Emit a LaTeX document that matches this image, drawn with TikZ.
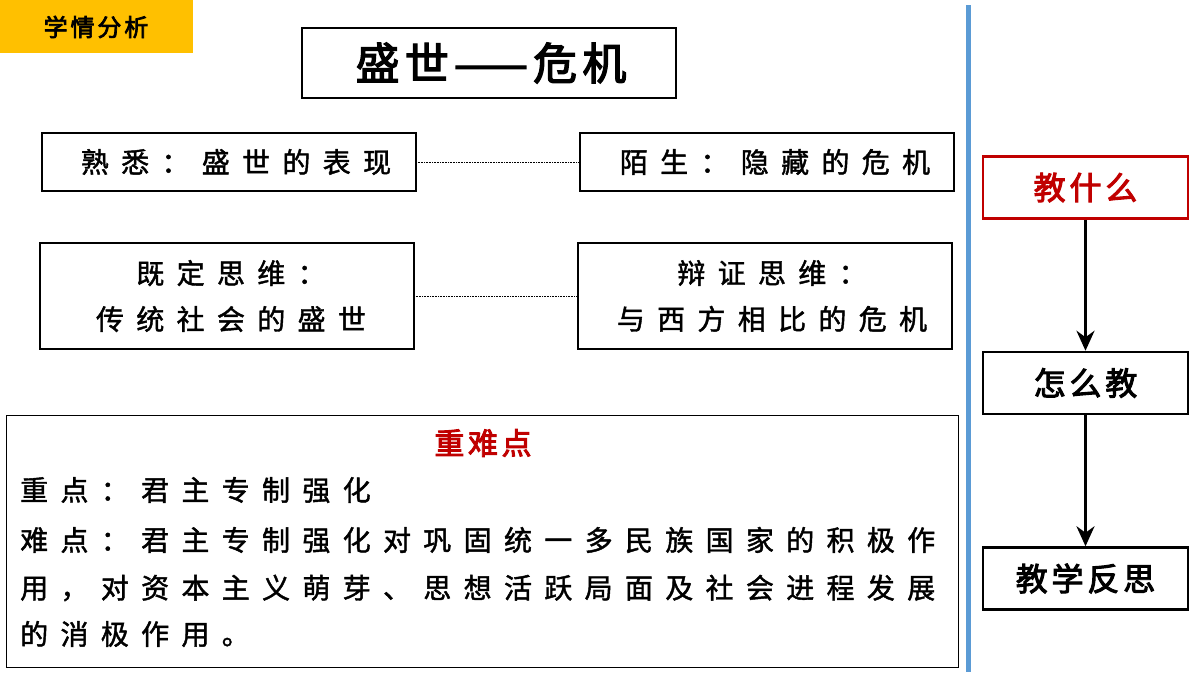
\documentclass[tikz,border=0pt]{standalone}
\usepackage{fontspec}
\usetikzlibrary{arrows.meta}
\newfontfamily\cjk[LetterSpace=44,FakeBold=1.5]{Noto Sans CJK SC}
\newfontfamily\cjkb[LetterSpace=12,FakeBold=3]{Noto Sans CJK SC}
\definecolor{ybox}{HTML}{FFC000}
\definecolor{bline}{HTML}{5B9BD5}
\definecolor{dred}{HTML}{C00000}
\begin{document}
\begin{tikzpicture}[x=1pt,y=-1pt,
  box/.style={draw=black,line width=2pt},
  txt/.style={font=\cjk\fontsize{28}{40}\selectfont,align=center,inner sep=0},
  sbox/.style={draw=black,line width=2.5pt,minimum width=205pt,minimum height=62pt,font=\cjkb\fontsize{32}{36}\selectfont},
  arr/.style={line width=3pt,-{Stealth[length=20pt,width=18pt]}}]
\useasboundingbox (0,0) rectangle (1200,675);
\fill[ybox] (0,0) rectangle (193,53);
\node[font=\cjkb\fontsize{24}{26}\selectfont] (ya) at (96,27) {学情分析};
\draw[box] (302,28) rectangle (676,98);
\node[font=\cjkb\fontsize{44}{46}\selectfont] (title) at (491,63) {盛世——危机};
\draw[box] (42,133) rectangle (416,191);
\node[txt] (a1) at (236,162) {熟悉：盛世的表现};
\draw[box] (580,133) rectangle (954,191);
\node[txt] (b1) at (775,162) {陌生：隐藏的危机};
\coordinate (a1r) at (416,162); \coordinate (b1l) at (580,162);
\draw[densely dotted,line width=0.6pt] (a1r) -- (b1l);
\draw[box] (40,243) rectangle (414,349);
\node[txt] (a2) at (231,296) {既定思维：\\[6pt]传统社会的盛世};
\draw[box] (578,243) rectangle (952,349);
\node[txt] (b2) at (772,296) {辩证思维：\\[6pt]与西方相比的危机};
\coordinate (a2r) at (414,296); \coordinate (b2l) at (578,296);
\draw[densely dotted,line width=0.6pt] (a2r) -- (b2l);
\draw[line width=1pt] (6,415) rectangle (958,667);
\node[font=\cjkb\fontsize{30}{32}\selectfont,text=dred] (zn) at (483,443) {重难点};
\node[txt,anchor=west] (l1) at (20,490) {重点：君主专制强化};
\node[txt,anchor=west] (l2) at (20,540) {难点：君主专制强化对巩固统一多民族国家的积极作};
\node[txt,anchor=west] (l3) at (20,588) {用，对资本主义萌芽、思想活跃局面及社会进程发展};
\node[txt,anchor=west] (l4) at (20,634) {的消极作用。};
\draw[bline,line width=5pt] (968,5) -- (968,672);
\node[sbox,draw=dred,text=dred] (r1) at (1085.5,187.5) {教什么};
\node[sbox] (r2) at (1085.5,383) {怎么教};
\node[sbox] (r3) at (1085.5,578.5) {教学反思};
\draw[arr] (r1) -- (r2);
\draw[arr] (r2) -- (r3);
\end{tikzpicture}
\end{document}
